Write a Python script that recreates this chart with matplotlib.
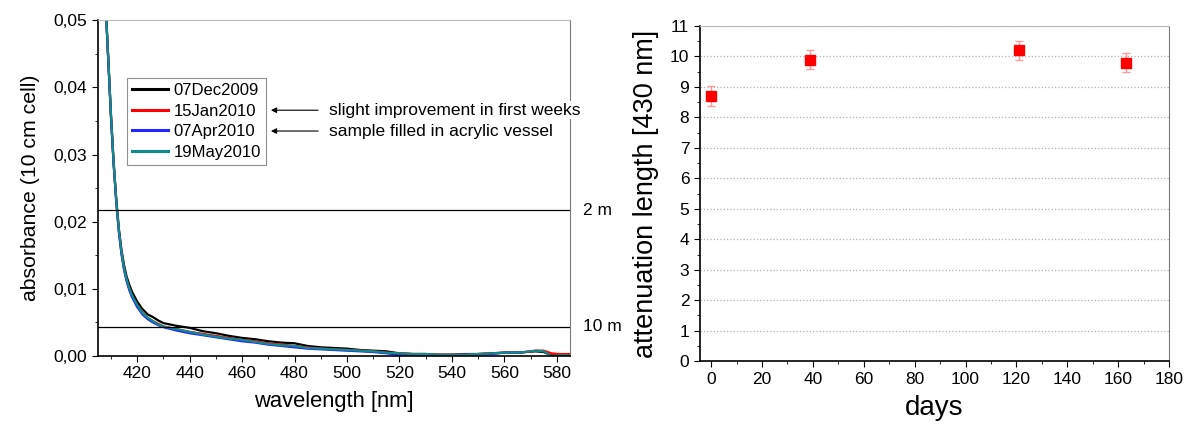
import matplotlib
matplotlib.use("Agg")
import matplotlib.pyplot as plt
from matplotlib.ticker import MultipleLocator, FuncFormatter

plt.rcParams['font.family'] = ['Liberation Sans', 'DejaVu Sans']

# absorbance spectra, 10 cm cell
wl = [408, 409, 410, 411, 412, 413, 414, 415, 416, 417, 418, 420, 422, 424, 426, 428,
      430, 435, 440, 445, 450, 455, 460, 465, 470, 475, 480, 485, 490, 495, 500, 505,
      510, 515, 520, 525, 530, 535, 540, 545, 550, 555, 560, 565, 568, 572, 575, 578,
      581, 585]
dec2009 = [0.0520, 0.0440, 0.0360, 0.0290, 0.0235, 0.0190, 0.0158, 0.0135, 0.0118, 0.0106,
           0.0096, 0.0081, 0.0070, 0.0062, 0.0058, 0.0053, 0.0049, 0.0045, 0.0042, 0.0037,
           0.0034, 0.0030, 0.0027, 0.0025, 0.0022, 0.0020, 0.0019, 0.0015, 0.0013, 0.0012,
           0.0011, 0.0009, 0.0008, 0.0007, 0.0004, 0.0003, 0.0003, 0.0002, 0.0002, 0.0003,
           0.0003, 0.0004, 0.0005, 0.0005, 0.0006, 0.0007, 0.0006, 0.0001, 0.0001, 0.0002]
jan2010 = [0.0520, 0.0440, 0.0358, 0.0288, 0.0232, 0.0187, 0.0154, 0.0130, 0.0113, 0.0100,
           0.0090, 0.0075, 0.0064, 0.0057, 0.0052, 0.0048, 0.0044, 0.0040, 0.0036, 0.0033,
           0.0030, 0.0027, 0.0024, 0.0022, 0.0019, 0.0017, 0.0015, 0.0013, 0.0011, 0.0010,
           0.0009, 0.0008, 0.0007, 0.0005, 0.0004, 0.0003, 0.0003, 0.0002, 0.0002, 0.0002,
           0.0003, 0.0004, 0.0005, 0.0005, 0.0006, 0.0008, 0.0008, 0.0004, 0.0003, 0.0003]
apr2010 = [0.0520, 0.0438, 0.0356, 0.0286, 0.0230, 0.0185, 0.0152, 0.0128, 0.0111, 0.0098,
           0.0088, 0.0073, 0.0062, 0.0055, 0.0050, 0.0046, 0.0043, 0.0038, 0.0034, 0.0031,
           0.0028, 0.0025, 0.0022, 0.0020, 0.0017, 0.0015, 0.0013, 0.0011, 0.0010, 0.0009,
           0.0008, 0.0007, 0.0006, 0.0004, 0.0002, 0.0002, 0.0002, 0.0001, 0.0001, 0.0002,
           0.0002, 0.0003, 0.0005, 0.0005, 0.0006, None, None, None, None, None]
may2010 = [0.0522, 0.0441, 0.0359, 0.0289, 0.0233, 0.0188, 0.0155, 0.0131, 0.0114, 0.0101,
           0.0091, 0.0076, 0.0064, 0.0057, 0.0052, 0.0047, 0.0044, 0.0040, 0.0036, 0.0032,
           0.0029, 0.0026, 0.0024, 0.0021, 0.0018, 0.0016, 0.0015, 0.0012, 0.0011, 0.0010,
           0.0009, 0.0008, 0.0007, 0.0005, 0.0004, 0.0003, 0.0003, 0.0002, 0.0002, 0.0002,
           0.0003, 0.0004, 0.0005, 0.0005, 0.0006, 0.0008, 0.0007, 0.0000, 0.0001, 0.0001]
spectra = [dec2009, jan2010, apr2010, may2010]
dates = ['07Dec2009', '15Jan2010', '07Apr2010', '19May2010']
colors = ['black', '#ff0000', '#2424ff', '#108a8a']

# absorbance levels for 2 m and 10 m attenuation length
ref_abs = [0.0217, 0.00434]
ref_labels = ['2 m', '10 m']

# attenuation length at 430 nm vs. days
days = [0, 39, 121, 163]
att_len = [8.7, 9.9, 10.2, 9.8]
att_err = [0.33, 0.3, 0.3, 0.3]

fig = plt.figure(figsize=(11.86, 4.3), dpi=100)

# left panel
ax1 = fig.add_axes([0.0825, 0.172, 0.398, 0.781])
for ys, lab, c in zip(spectra, dates, colors):
    pts = [(x, y) for x, y in zip(wl, ys) if y is not None]
    ax1.plot([p[0] for p in pts], [p[1] for p in pts], color=c, lw=1.6, label=lab)
for a in ref_abs:
    ax1.axhline(a, color='black', lw=0.9)
for a, lab in zip(ref_abs, ref_labels):
    ax1.text(590, a, lab, fontsize=12.5, va='center', ha='left', clip_on=False)

ax1.set_xlim(405, 585)
ax1.set_ylim(0, 0.05)
ax1.xaxis.set_major_locator(MultipleLocator(20))
ax1.xaxis.set_minor_locator(MultipleLocator(10))
ax1.yaxis.set_major_locator(MultipleLocator(0.01))
ax1.yaxis.set_minor_locator(MultipleLocator(0.005))
ax1.yaxis.set_major_formatter(FuncFormatter(lambda v, p: ('%.2f' % v).replace('.', ',')))
ax1.set_xlabel('wavelength [nm]', fontsize=15.8, labelpad=7)
ax1.set_ylabel('absorbance (10 cm cell)', fontsize=15.3, labelpad=10)

leg = ax1.legend(loc='upper left', bbox_to_anchor=(0.061, 0.827), borderaxespad=0,
                 fontsize=12, handlelength=2.2, handletextpad=0.3, labelspacing=0.33,
                 fancybox=False, framealpha=1, borderpad=0.3)
leg.get_frame().set_edgecolor('#909090')
leg.get_frame().set_linewidth(0.8)
for h in leg.get_lines():
    h.set_linewidth(2.2)

notes = ['slight improvement in first weeks', 'sample filled in acrylic vessel']
note_y = [0.0366, 0.0335]
for t, y in zip(notes, note_y):
    ax1.annotate('', xy=(471, y), xytext=(489, y), zorder=6,
                 arrowprops=dict(arrowstyle='-|>', color='black', lw=0.8,
                                 mutation_scale=8, shrinkA=0, shrinkB=0))
    ax1.text(493, y, t, fontsize=12.5, va='center', ha='left', clip_on=False,
             bbox=dict(facecolor='white', edgecolor='none', pad=1))

# right panel
ax2 = fig.add_axes([0.590, 0.160, 0.3957, 0.7795])
ax2.errorbar(days, att_len, yerr=att_err, fmt='s', color='#ff0000', ms=6.5,
             ecolor='#ff9a9a', elinewidth=1, capsize=3, capthick=1, zorder=3)
ax2.set_xlim(-4.5, 180)
ax2.set_ylim(0, 11)
ax2.xaxis.set_major_locator(MultipleLocator(20))
ax2.xaxis.set_minor_locator(MultipleLocator(10))
ax2.yaxis.set_major_locator(MultipleLocator(1))
ax2.yaxis.set_minor_locator(MultipleLocator(0.5))
ax2.grid(axis='y', which='major', linestyle=':', color='#b0b0b0', lw=0.9)
ax2.set_xlabel('days', fontsize=20, labelpad=6)
ax2.set_ylabel('attenuation length [430 nm]', fontsize=19.5, labelpad=8)

for ax in (ax1, ax2):
    ax.tick_params(which='both', direction='out', top=False, right=False, labelsize=12.5)
    ax.tick_params(which='major', length=4)
    ax.tick_params(which='minor', length=2.5)
    ax.spines['top'].set_color('#b8b8b8')
    ax.spines['right'].set_color('#7a7a7a')
    ax.spines['left'].set_linewidth(1.2)
    ax.spines['bottom'].set_linewidth(1.2)

plt.savefig('out.png', dpi=100)
